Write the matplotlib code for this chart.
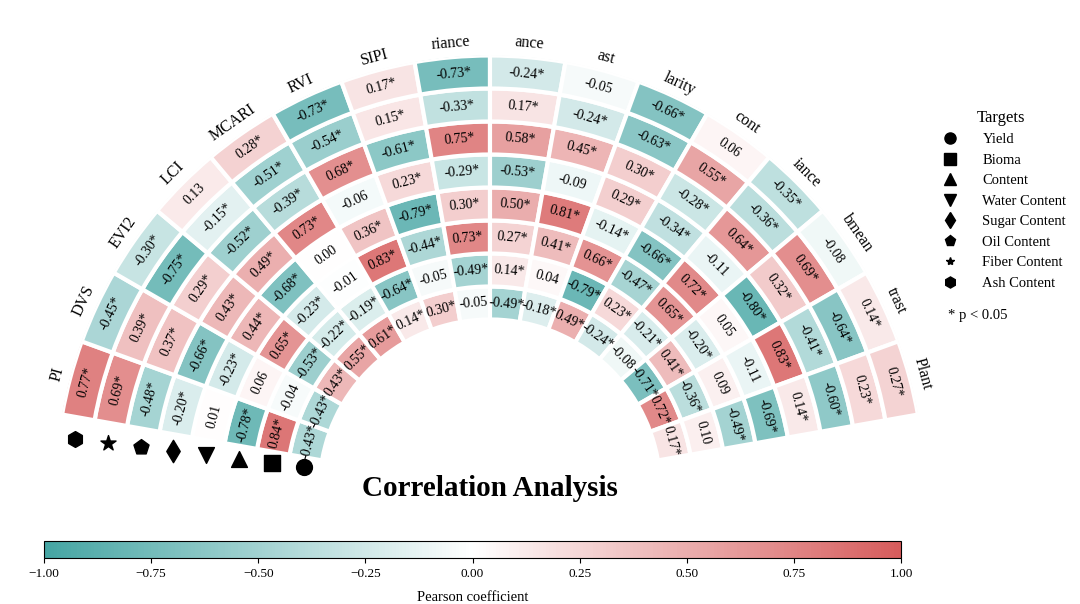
import numpy as np
import matplotlib
matplotlib.use('Agg')
import matplotlib.pyplot as plt
from matplotlib.colors import LinearSegmentedColormap, Normalize
from matplotlib.lines import Line2D

plt.rcParams['font.family'] = ['Liberation Serif', 'DejaVu Serif']

# columns, left to right along the arc
features = ['PI', 'DVS', 'EVI2', 'LCI', 'MCARI', 'RVI', 'SIPI', 'riance',
            'ance', 'ast', 'larity', 'cont', 'iance', 'bmean', 'trast', 'Plant']

# rings, inner to outer
targets = ['Yield', 'Bioma', 'Content', 'Water Content', 'Sugar Content',
           'Oil Content', 'Fiber Content', 'Ash Content']
target_markers = ['o', 's', '^', 'v', 'd', 'p', '*', 'h']

yield_r = [-0.43, -0.43, 0.43, 0.55, 0.61, 0.14, 0.30, -0.05, -0.49, -0.18, 0.49, -0.24, -0.08, -0.71, 0.72, 0.17]
bioma_r = [0.84, -0.04, -0.53, -0.22, -0.19, -0.64, -0.05, -0.49, 0.14, 0.04, -0.79, 0.23, -0.21, 0.41, -0.36, 0.10]
content_r = [-0.78, 0.06, 0.65, -0.23, -0.01, 0.83, -0.44, 0.73, 0.27, 0.41, 0.66, -0.47, 0.65, -0.20, 0.09, -0.49]
water_r = [0.01, -0.23, 0.44, -0.68, 0.00, 0.36, -0.79, 0.30, 0.50, 0.81, -0.14, -0.66, 0.72, 0.05, -0.11, -0.69]
sugar_r = [-0.20, -0.66, 0.43, 0.49, 0.73, -0.06, 0.23, -0.29, -0.53, -0.09, 0.29, -0.34, -0.11, -0.80, 0.83, 0.14]
oil_r = [-0.48, 0.37, 0.29, -0.52, -0.39, 0.68, -0.61, 0.75, 0.58, 0.45, 0.30, -0.28, 0.64, 0.32, -0.41, -0.60]
fiber_r = [0.69, 0.39, -0.75, -0.15, -0.51, -0.54, 0.15, -0.33, 0.17, -0.24, -0.63, 0.55, -0.36, 0.69, -0.64, 0.23]
ash_r = [0.77, -0.45, -0.30, 0.13, 0.28, -0.73, 0.17, -0.73, -0.24, -0.05, -0.66, 0.06, -0.35, -0.08, 0.14, 0.27]

corr = np.array([yield_r, bioma_r, content_r, water_r, sugar_r, oil_r, fiber_r, ash_r])
sig = np.abs(corr) >= 0.135   # p < 0.05

cmap = LinearSegmentedColormap.from_list('tealred', ['#45a5a3', '#ffffff', '#d65c5c'])
norm = Normalize(-1, 1)

fig = plt.figure(figsize=(10.8, 6.04), dpi=100)

# polar half disc, centre at about (490, 490) px; the box is square
side = 870
ax = fig.add_axes([55/1080, (114 - side/4)/604, side/1080, side/604], projection='polar')
ax.set_thetamin(0)
ax.set_thetamax(180)
ax.set_ylim(0, 435)
ax.set_axis_off()

col_deg = 165 - 10*np.arange(len(features))
theta = np.deg2rad(col_deg)
r0 = 170.5
dr = 33

for k in range(len(targets)):
    ax.bar(theta, dr, width=np.deg2rad(10), bottom=r0 + k*dr,
           color=cmap(norm(corr[k])), edgecolor='white', linewidth=3)
    rc = r0 + k*dr + dr/2
    for j in range(len(features)):
        txt = f'{corr[k, j]:.2f}' + ('*' if sig[k, j] else '')
        ax.text(theta[j], rc, txt, rotation=col_deg[j] - 90, rotation_mode='anchor',
                ha='center', va='center', fontsize=10)
    ax.scatter(np.deg2rad(173), rc, marker=target_markers[k], s=130,
               color='black', zorder=5, clip_on=False)

for j, name in enumerate(features):
    ax.text(theta[j], 448, name, rotation=col_deg[j] - 90, rotation_mode='anchor',
            ha='center', va='center', fontsize=11.5)

fig.text(490/1080, 1 - 488/604, 'Correlation Analysis', ha='center', va='center',
         fontsize=21, fontweight='bold')

handles = [Line2D([], [], marker=m, color='black', linestyle='none',
                  markersize=(6 if m == '*' else 8)) for m in target_markers]
fig.legend(handles, targets, title='Targets', loc='upper left',
           bbox_to_anchor=(930/1080, 1 - 104/604), frameon=False,
           fontsize=10.5, title_fontsize=12, handletextpad=1.2,
           labelspacing=0.5, borderaxespad=0)
fig.text(948/1080, 1 - 315/604, '* p < 0.05', ha='left', va='center', fontsize=10.5)

cax = fig.add_axes([44/1080, 46/604, 857/1080, 17/604])
cb = fig.colorbar(plt.cm.ScalarMappable(norm=norm, cmap=cmap), cax=cax,
                  orientation='horizontal')
cb.set_ticks(np.arange(-1, 1.01, 0.25))
cb.ax.xaxis.set_major_formatter(
    matplotlib.ticker.FuncFormatter(lambda v, p: f'{v:.2f}'.replace('-', '\u2212')))
cb.ax.tick_params(labelsize=9.5)
cb.set_label('Pearson coefficient', fontsize=10.5, labelpad=8)

fig.savefig('out.png', dpi=100)
